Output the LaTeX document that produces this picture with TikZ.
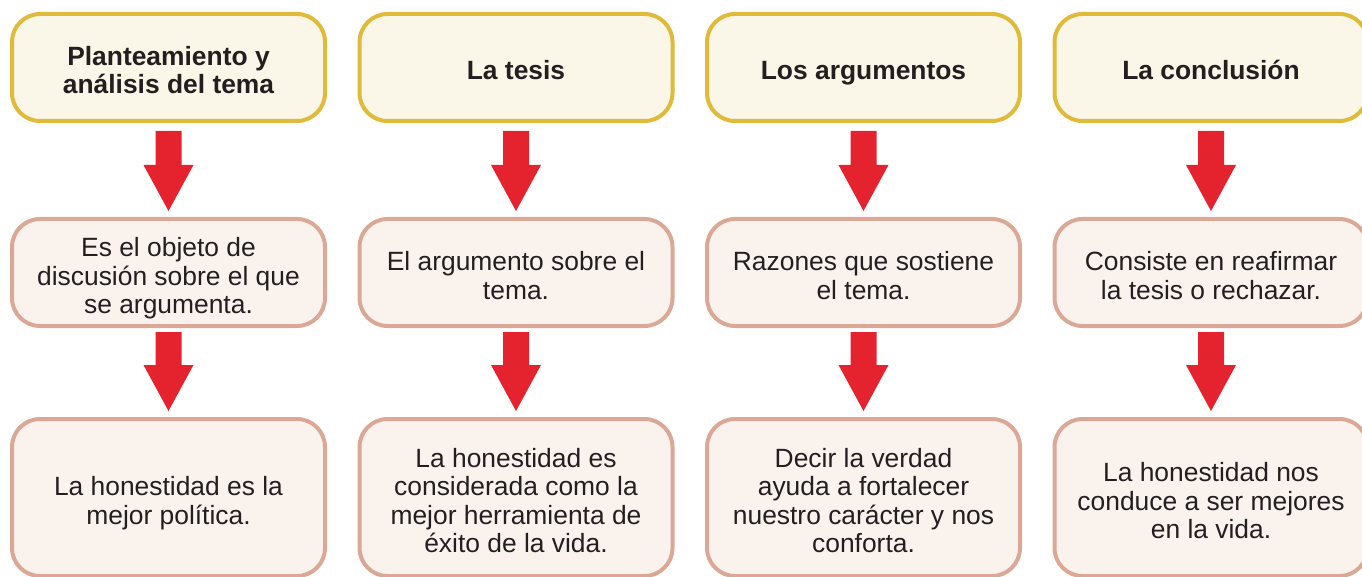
\documentclass[tikz,border=0pt]{standalone}
\usepackage{fontspec}
\setmainfont{Liberation Sans}
\usetikzlibrary{calc}
\definecolor{goldb}{HTML}{E0BA3A}
\definecolor{creamf}{HTML}{FAF6E8}
\definecolor{salmonb}{HTML}{DCA896}
\definecolor{pinkf}{HTML}{FAF2ED}
\definecolor{arrred}{HTML}{E5232F}
\definecolor{txt}{HTML}{231F20}
\newcommand\tx[1]{\raisebox{0pt}[\dimexpr\height+4pt\relax][0pt]{\begin{tabular}[b]{@{}c@{}}#1\end{tabular}}}
\tikzset{
  box/.style={draw, line width=3pt, rounded corners=21pt, minimum width=234.75pt, inner sep=0pt, text=txt},
  hdr/.style={box, draw=goldb, fill=creamf, minimum height=80.25pt, font=\bfseries\fontsize{19.8}{20.3}\selectfont},
  midbox/.style={box, draw=salmonb, fill=pinkf, minimum height=80.25pt, font=\fontsize{19.8}{21.4}\selectfont},
  botbox/.style={midbox, minimum height=117.75pt},
  barrow/.style={fill=arrred}
}
\newcommand\blockarr[3]{%
  \fill[barrow] ($(#1.south)+(-13,#3)$) -- ($(#1.south)+(13,#3)$) -- ($(#2.north)+(13,-52)$) -- ($(#2.north)+(25,-52)$) -- ($(#2.north)+(0,-6)$) -- ($(#2.north)+(-25,-52)$) -- ($(#2.north)+(-13,-52)$) -- cycle;}
\begin{document}
\begin{tikzpicture}[x=0.75pt,y=-0.75pt]
\useasboundingbox (0,0) rectangle (1362,577);
% headers
\node[hdr] (h1) at (168.5,67.5) {\tx{Planteamiento y\\análisis del tema}};
\node[hdr] (h2) at (516,67.5) {\tx{La tesis}};
\node[hdr] (h3) at (863.5,67.5) {\tx{Los argumentos}};
\node[hdr] (h4) at (1211,67.5) {\tx{La conclusión}};
% middle
\node[midbox] (m1) at (168.5,272.5) {\tx{Es el objeto de\\discusión sobre el que\\se argumenta.}};
\node[midbox] (m2) at (516,272.5) {\tx{El argumento sobre el\\tema.}};
\node[midbox] (m3) at (863.5,272.5) {\tx{Razones que sostiene\\el tema.}};
\node[midbox] (m4) at (1211,272.5) {\tx{Consiste en reafirmar\\la tesis o rechazar.}};
% bottom
\node[botbox] (b1) at (168.5,497.5) {\tx{La honestidad es la\\mejor política.}};
\node[botbox] (b2) at (516,497.5) {\tx{La honestidad es\\considerada como la\\mejor herramienta de\\éxito de la vida.}};
\node[botbox] (b3) at (863.5,497.5) {\tx{Decir la verdad\\ayuda a fortalecer\\nuestro carácter y nos\\conforta.}};
\node[botbox] (b4) at (1211,497.5) {\tx{La honestidad nos\\conduce a ser mejores\\en la vida.}};
% arrows
\blockarr{h1}{m1}{8}
\blockarr{h2}{m2}{8}
\blockarr{h3}{m3}{8}
\blockarr{h4}{m4}{8}
\blockarr{m1}{b1}{4}
\blockarr{m2}{b2}{4}
\blockarr{m3}{b3}{4}
\blockarr{m4}{b4}{4}
\end{tikzpicture}
\end{document}
